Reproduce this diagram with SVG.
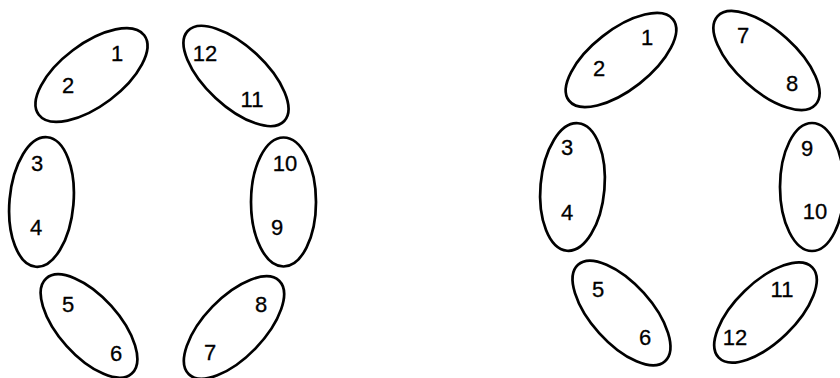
<svg xmlns="http://www.w3.org/2000/svg" width="840" height="378" viewBox="0 0 840 378">
<style>
.e{fill:none;stroke:#000;stroke-width:2.7}
.t{font-family:"Liberation Sans",Arial,sans-serif;font-size:22px;fill:#000;stroke:#000;stroke-width:0.3;text-anchor:middle}
</style>
<rect width="840" height="378" fill="#fff"/>
<g id="left">
<g id="L12"><ellipse class="e" cx="91.5" cy="75" rx="66" ry="31" transform="rotate(-37 91.5 75)"/><text class="t" x="117" y="61">1</text><text class="t" x="68" y="93">2</text></g>
<g id="L1112"><ellipse class="e" cx="236" cy="76" rx="66" ry="30" transform="rotate(43 236 76)"/><text class="t" x="205" y="61">12</text><text class="t" x="252" y="107">11</text></g>
<g id="L34"><ellipse class="e" cx="41.5" cy="202" rx="32" ry="65" transform="rotate(5 41.5 202)"/><text class="t" x="37" y="171">3</text><text class="t" x="36" y="235">4</text></g>
<g id="L910"><ellipse class="e" cx="283.5" cy="202" rx="32.5" ry="64.5"/><text class="t" x="285" y="171">10</text><text class="t" x="277" y="235">9</text></g>
<g id="L56"><ellipse class="e" cx="89" cy="326" rx="64" ry="30" transform="rotate(48 89 326)"/><text class="t" x="68" y="312">5</text><text class="t" x="116" y="361">6</text></g>
<g id="L78"><ellipse class="e" cx="234" cy="327.5" rx="65" ry="30" transform="rotate(-46 234 327.5)"/><text class="t" x="261" y="312">8</text><text class="t" x="210" y="360">7</text></g>
</g>
<g id="right">
<g id="R12"><ellipse class="e" cx="621" cy="60" rx="66" ry="30" transform="rotate(-38 621 60)"/><text class="t" x="647" y="45">1</text><text class="t" x="599" y="76">2</text></g>
<g id="R78"><ellipse class="e" cx="766.5" cy="60.5" rx="66" ry="30" transform="rotate(42 766.5 60.5)"/><text class="t" x="743" y="43">7</text><text class="t" x="792" y="91">8</text></g>
<g id="R34"><ellipse class="e" cx="572.5" cy="187" rx="32" ry="64" transform="rotate(5 572.5 187)"/><text class="t" x="567" y="155">3</text><text class="t" x="567" y="220">4</text></g>
<g id="R910"><ellipse class="e" cx="812" cy="187" rx="32" ry="64"/><text class="t" x="807" y="156">9</text><text class="t" x="815" y="219">10</text></g>
<g id="R56"><ellipse class="e" cx="621.5" cy="313" rx="65" ry="30" transform="rotate(48 621.5 313)"/><text class="t" x="598" y="297">5</text><text class="t" x="645" y="345">6</text></g>
<g id="R1112"><ellipse class="e" cx="765.5" cy="312.5" rx="65" ry="30" transform="rotate(-44 765.5 312.5)"/><text class="t" x="782" y="297">11</text><text class="t" x="735" y="345">12</text></g>
</g>
</svg>
